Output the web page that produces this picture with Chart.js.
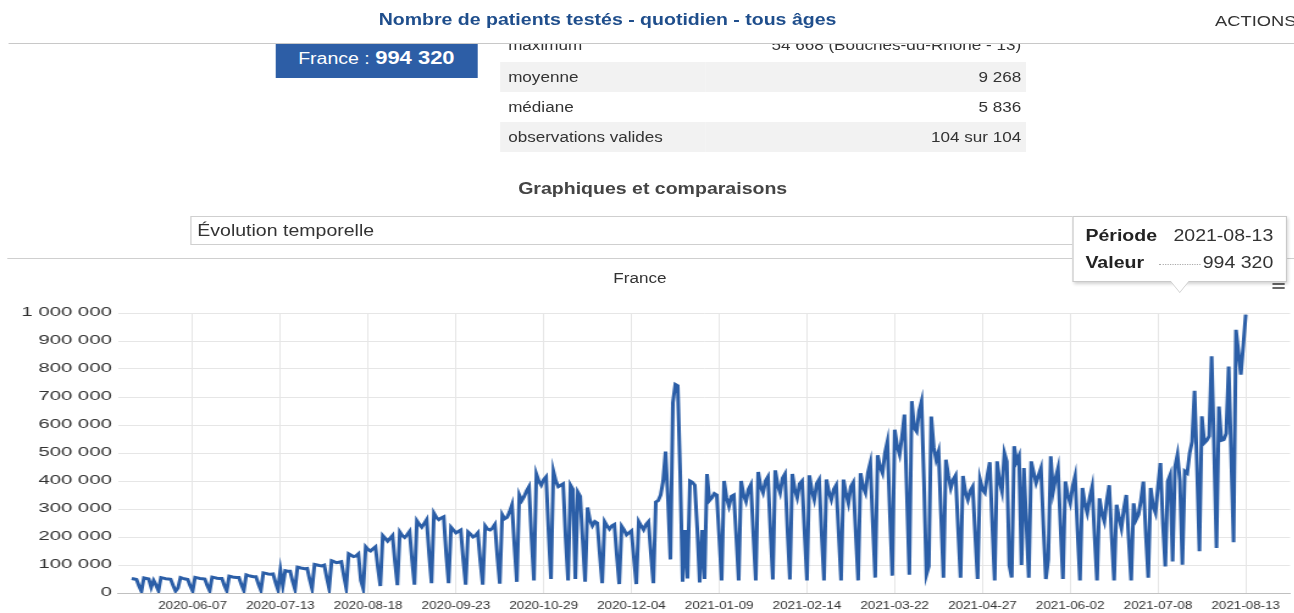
<!DOCTYPE html>
<html lang="fr">
<head>
<meta charset="utf-8">
<title>Nombre de patients testés - quotidien - tous âges</title>
<script src="https://cdn.jsdelivr.net/npm/chart.js@4.4.1/dist/chart.umd.min.js"></script>
<style>
html,body{margin:0;padding:0;width:1294px;height:613px;overflow:hidden;background:#fff;font-family:"Liberation Sans",Arial,Helvetica,sans-serif;color:#333;}
#page{position:absolute;left:0;top:0;width:1061px;height:613px;transform:scaleX(1.22);transform-origin:0 0;}
.abs{position:absolute;}
#hdr{left:0;top:0;width:1061px;height:43px;background:#fff;z-index:5;}
#hdrline{left:6.5px;top:43px;width:1055px;height:1px;background:#c8c8c8;z-index:6;}
#title{left:0;top:11px;width:996px;text-align:center;font-weight:bold;font-size:16px;color:#1f4e8c;}
#actions{left:996px;top:12px;font-size:15px;color:#333;white-space:nowrap;}
#badge{left:226px;top:34px;width:165px;height:44px;background:#2d5ea6;color:#fff;font-size:16px;text-align:center;line-height:48px;z-index:1;}
#badge b{font-size:18px;}
#stats{left:410px;top:32px;width:431px;border-collapse:collapse;font-size:14px;color:#333;z-index:1;}
#stats td{height:30px;padding:0 4px 0 6.5px;}
#stats tr.first td{padding-bottom:4px;height:26px;}
#stats td.r{text-align:right;}
#stats tr.g{background:#f2f2f2;}
#sub{left:0;top:180px;width:1070px;text-align:center;font-weight:bold;font-size:16px;color:#444;}
#select{left:155.7px;top:216px;width:740px;height:27px;border:1px solid #cfcfcf;font-size:16px;line-height:27px;padding-left:5px;color:#333;}
#sep{left:5.7px;top:258px;width:1056px;height:1px;background:#cfcfcf;}
#ctitle{left:0;top:270px;width:1049px;text-align:center;font-size:14px;color:#333;z-index:2;}
#menu{left:1043px;top:279px;width:10px;z-index:2;}
#menu i{display:block;height:2px;background:#666;margin-bottom:2px;}
#chartbox{left:0;top:260px;width:1061px;height:353px;}
#tip{left:878.7px;top:216px;width:174px;height:64px;background:#fff;border:1px solid #c9c9c9;box-shadow:1px 2px 3px rgba(0,0,0,0.18);z-index:10;font-size:16px;color:#333;}
#tip .row{position:absolute;left:10px;right:10px;}
#tip .k{font-weight:bold;color:#222;}
#tip .v{position:absolute;right:0;top:0;}
#tip .dots{position:absolute;left:60px;right:60px;top:10px;border-top:1px dotted #aaa;}
#tail{left:959px;top:280px;width:0;height:0;border-left:8px solid transparent;border-right:8px solid transparent;border-top:12px solid #fff;z-index:11;filter:drop-shadow(0 1px 0 #c9c9c9);}
</style>
</head>
<body>
<div id="page">
<div class="abs" id="hdr"><div class="abs" id="title">Nombre de patients testés - quotidien - tous âges</div><div class="abs" id="actions">ACTIONS</div></div>
<div class="abs" id="hdrline"></div>
<div class="abs" id="badge">France : <b>994 320</b></div>
<table class="abs" id="stats">
<tr class="first"><td>maximum</td><td class="r">54 668 (Bouches-du-Rhône - 13)</td></tr>
<tr class="g"><td>moyenne</td><td class="r">9 268</td></tr>
<tr><td>médiane</td><td class="r">5 836</td></tr>
<tr class="g"><td>observations valides</td><td class="r">104 sur 104</td></tr>
</table>
<div class="abs" id="sub">Graphiques et comparaisons</div>
<div class="abs" id="select">Évolution temporelle</div>
<div class="abs" id="sep"></div>
<div class="abs" id="chartbox"><canvas id="c" width="1061" height="353"></canvas></div>
<div class="abs" id="ctitle">France</div>
<div class="abs" id="menu"><i></i><i></i><i></i></div>
<div class="abs" id="tip">
  <div class="row" style="top:10px"><span class="k">Période</span><span class="v">2021-08-13</span></div>
  <div class="row" style="top:37px"><span class="k">Valeur</span><span class="dots"></span><span class="v">994 320</span></div>
</div>
<div class="abs" id="tail"></div>
</div>
<script>
// ---- data (France, nombre de patients testés par jour) ----
const startDate = '2020-05-13';
const patientsTested = [
  52000, 50000, 48000, 25000, 6000,
  54000, 52000, 50000, 20000, 45000, 28000, 8000,
  55000, 53000, 51000, 50000, 49000, 27000, 7000,
  18000, 55000, 52000, 50000, 48000, 26000, 7000,
  56000, 54000, 52000, 51000, 50000, 27000, 8000,
  57000, 55000, 53000, 52000, 52000, 28000, 8000,
  60000, 58000, 56000, 55000, 55000, 30000, 9000,
  65000, 62000, 60000, 58000, 58000, 32000, 10000,
  72000, 70000, 68000, 67000, 68000, 38000, 12000,
  82000, 25000, 80000, 78000, 78000, 42000, 13000,
  92000, 90000, 88000, 87000, 88000, 48000, 15000,
  102000, 100000, 98000, 97000, 100000, 55000, 16000,
  115000, 112000, 108000, 110000, 112000, 62000, 18000,
  140000, 135000, 130000, 132000, 140000, 45000, 15000,
  165000, 155000, 150000, 158000, 165000, 90000, 25000,
  205000, 195000, 185000, 195000, 205000, 110000, 28000,
  218000, 205000, 198000, 208000, 220000, 118000, 30000,
  258000, 245000, 235000, 248000, 262000, 140000, 35000,
  285000, 270000, 262000, 268000, 272000, 140000, 35000,
  235000, 225000, 215000, 220000, 225000, 120000, 30000,
  218000, 210000, 200000, 205000, 215000, 115000, 30000,
  240000, 228000, 225000, 232000, 245000, 130000, 33000,
  280000, 265000, 270000, 290000, 315000, 170000, 40000,
  350000, 330000, 345000, 365000, 380000, 200000, 45000,
  425000, 400000, 385000, 405000, 415000, 220000, 50000,
  435000, 400000, 380000, 385000, 390000, 200000, 45000,
  385000, 370000, 50000, 360000, 345000, 190000, 40000,
  305000, 260000, 240000, 255000, 250000, 140000, 35000,
  255000, 240000, 228000, 240000, 245000, 135000, 32000,
  238000, 225000, 208000, 215000, 222000, 125000, 32000,
  255000, 240000, 226000, 245000, 255000, 140000, 35000,
  325000, 330000, 350000, 400000, 505000, 330000, 120000,
  680000, 745000, 740000, 430000, 40000, 225000, 52000,
  400000, 395000, 385000, 230000, 38000, 225000, 50000,
  425000, 330000, 340000, 355000, 350000, 200000, 45000,
  400000, 340000, 310000, 345000, 350000, 200000, 45000,
  400000, 350000, 327000, 370000, 387000, 210000, 45000,
  432000, 380000, 358000, 400000, 415000, 225000, 48000,
  438000, 385000, 358000, 410000, 425000, 225000, 48000,
  425000, 370000, 340000, 390000, 400000, 220000, 45000,
  420000, 365000, 333000, 390000, 405000, 215000, 45000,
  405000, 360000, 333000, 370000, 385000, 215000, 45000,
  405000, 355000, 320000, 380000, 395000, 215000, 45000,
  428000, 380000, 358000, 430000, 465000, 250000, 55000,
  492000, 450000, 428000, 500000, 540000, 290000, 62000,
  583000, 525000, 495000, 560000, 637000, 350000, 65000,
  685000, 590000, 577000, 650000, 684000, 400000, 65000,
  95000, 630000, 520000, 476000, 505000, 280000, 55000,
  476000, 420000, 375000, 405000, 420000, 230000, 55000,
  418000, 360000, 333000, 365000, 380000, 210000, 50000,
  405000, 370000, 358000, 420000, 467000, 250000, 45000,
  470000, 400000, 363000, 500000, 470000, 100000, 55000,
  524000, 470000, 490000, 100000, 446000, 250000, 55000,
  470000, 430000, 393000, 420000, 446000, 240000, 50000,
  120000, 488000, 363000, 410000, 446000, 240000, 50000,
  398000, 350000, 321000, 380000, 417000, 220000, 45000,
  375000, 320000, 286000, 340000, 380000, 200000, 45000,
  338000, 285000, 256000, 330000, 385000, 200000, 45000,
  315000, 270000, 232000, 300000, 350000, 190000, 45000,
  320000, 262000, 280000, 330000, 398000, 210000, 55000,
  375000, 310000, 286000, 380000, 464000, 250000, 95000,
  399000, 422000, 113000, 450000, 494000, 400000, 101000,
  435000, 428000, 500000, 540000, 722000, 450000, 149000,
  631000, 536000, 545000, 560000, 845000, 520000, 161000,
  666000, 545000, 548000, 570000, 809000, 500000, 181000,
  940000, 860000, 780000, 885000, 994320
];
const xTickLabels = ['2020-06-07','2020-07-13','2020-08-18','2020-09-23','2020-10-29','2020-12-04','2021-01-09','2021-02-14','2021-03-22','2021-04-27','2021-06-02','2021-07-08','2021-08-13'];
const yTickValues = [0,100000,200000,300000,400000,500000,600000,700000,800000,900000,1000000];
const yTickLabels = ['0','100 000','200 000','300 000','400 000','500 000','600 000','700 000','800 000','900 000','1 000 000'];

// ---- build ----
const DAY = 86400000;
const dayIndex = s => Math.round((Date.parse(s) - Date.parse(startDate)) / DAY);
const xTickDays = xTickLabels.map(dayIndex);
const points = patientsTested.map((v, i) => ({x: i, y: v}));
const FONT = '"Liberation Sans", Arial, sans-serif';

// y-axis labels are drawn wide (as in the source), right-aligned against the plot
const wideYLabels = {
  id: 'wideYLabels',
  afterDraw(chart) {
    const ys = chart.scales.y, ctx = chart.ctx;
    ctx.save();
    ctx.font = '12px ' + FONT;
    ctx.fillStyle = '#333';
    ctx.textAlign = 'right';
    ctx.textBaseline = 'middle';
    yTickValues.forEach((v, i) => {
      ctx.save();
      ctx.translate(chart.chartArea.left - 5, ys.getPixelForValue(v));
      ctx.scale(1.39, 1);
      ctx.fillText(yTickLabels[i], 0, 0);
      ctx.restore();
    });
    ctx.restore();
  }
};

new Chart(document.getElementById('c'), {
  type: 'line',
  data: {datasets: [{data: points, borderColor: '#2b5ea7', borderWidth: 3, pointRadius: 0, tension: 0, fill: false}]},
  options: {
    responsive: false, animation: false, devicePixelRatio: 1,
    layout: {padding: {left: 0, right: 3.6, top: 53, bottom: 0}},
    plugins: {legend: {display: false}, tooltip: {enabled: false}, title: {display: false}},
    scales: {
      x: {
        type: 'linear', min: -5.62, max: 475.17,
        afterBuildTicks: s => { s.ticks = xTickDays.map(v => ({value: v})); },
        afterFit: s => { s.height = 20; },
        ticks: {autoSkip: false, maxRotation: 0, minRotation: 0, padding: 6, color: '#333',
                font: {family: FONT, size: 11},
                callback: v => xTickLabels[xTickDays.indexOf(v)] || ''},
        grid: {color: '#e6e6e6', drawTicks: false},
        border: {color: '#c0c0c0', width: 1}
      },
      y: {
        min: 0, max: 1000000,
        afterBuildTicks: s => { s.ticks = yTickValues.map(v => ({value: v})); },
        afterFit: s => { s.width = 96.7; },
        ticks: {display: false},
        grid: {color: '#e6e6e6', drawTicks: false},
        border: {display: false}
      }
    }
  },
  plugins: [wideYLabels]
});
</script>
</body>
</html>
